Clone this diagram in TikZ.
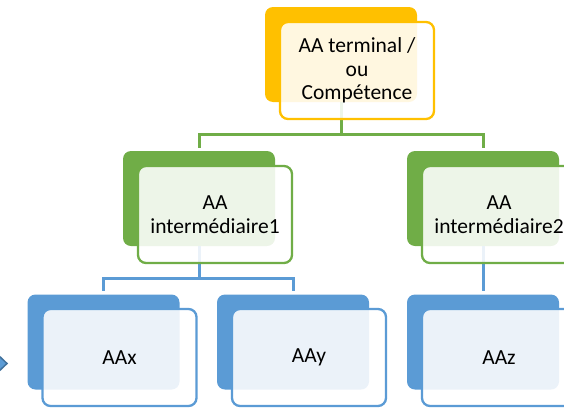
\documentclass[tikz,border=0pt]{standalone}
\usepackage{fontspec}
\setmainfont{Carlito}
\definecolor{aorange}{HTML}{FFC000}
\definecolor{agreen}{HTML}{70AD47}
\definecolor{ablue}{HTML}{5B9BD5}
\definecolor{ablued}{HTML}{41719C}
\tikzset{
  backbox/.style={rounded corners=8pt, minimum width=152pt, minimum height=95pt, inner sep=0pt, fill=#1, draw=none},
  frontbox/.style={rounded corners=8pt, minimum width=154pt, minimum height=97pt, inner sep=0pt,
     fill=white, fill opacity=0.88, text opacity=1, draw=#1, line width=2.3pt, align=center,
     font=\fontsize{21.5}{23.5}\selectfont},
  conn/.style={draw=#1, line width=3pt},
}
\begin{document}
\begin{tikzpicture}[x=1pt,y=-1pt]
\useasboundingbox (0,0) rectangle (564,407);
% back boxes
\node[backbox=aorange] (tb) at (341,54.5) {};
\node[backbox=agreen] (g1b) at (199,198.5) {};
\node[backbox=agreen] (g2b) at (483,198.5) {};
\node[backbox=ablue] (xb) at (103.5,342) {};
\node[backbox=ablue] (yb) at (293,342) {};
\node[backbox=ablue] (zb) at (483,342) {};
% connectors
\coordinate (gh) at (341,134);
\draw[conn=agreen, shorten >=3pt] (tb.south) -- (gh) -| (g1b.north);
\draw[conn=agreen, shorten >=3pt] (gh) -| (g2b.north);
\coordinate (bh) at (199,278);
\draw[conn=ablue, shorten >=3pt] (g1b.south) -- (bh) -| (xb.north);
\draw[conn=ablue, shorten >=3pt] (bh) -| (yb.north);
\draw[conn=ablue, shorten >=3pt] (g2b.south) -- (zb.north);
% front boxes
\node[frontbox=aorange] (t) at (357,70.5) {AA terminal /\\ou\\Compétence};
\node[frontbox=agreen] (g1) at (215,214.5) {AA\\intermédiaire1};
\node[frontbox=agreen] (g2) at (499,214.5) {AA\\intermédiaire2};
\node[frontbox=ablue] (x) at (119.5,357.5) {AAx};
\node[frontbox=ablue] (y) at (309,357.5) {AAy};
\node[frontbox=ablue] (z) at (499,357.5) {AAz};
% partial arrow at left edge
\draw[fill=ablue, draw=ablued, line width=1.5pt, line join=miter] (-4,353) -- (7,363.5) -- (-4,374) -- cycle;
\end{tikzpicture}
\end{document}
